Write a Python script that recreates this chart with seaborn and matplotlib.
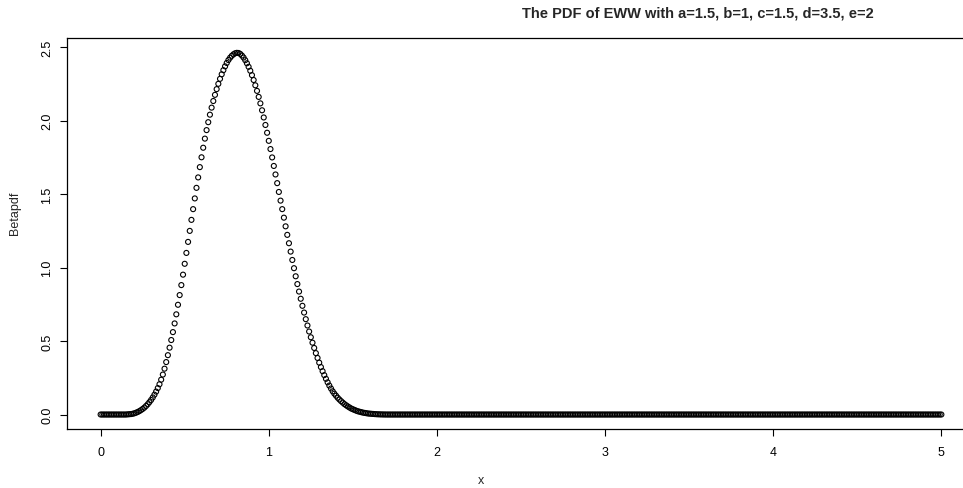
import numpy as np
import pandas as pd
import matplotlib
matplotlib.use('Agg')
import matplotlib.pyplot as plt
import seaborn as sns

# grid step of the evaluated points (read from the spacing of the circles)
x_step = 0.01

# pdf values, x = 0.00 .. 5.00
pdf_head_zeros = [0.0] * 15  # x = 0.00 .. 0.14
pdf_body = [
    0.000, 0.001, 0.002, 0.003, 0.005, 0.008, 0.012, 0.017, 0.023, 0.030,  # 0.15-0.24
    0.038, 0.047, 0.058, 0.070, 0.084, 0.099, 0.116, 0.135, 0.156, 0.180,  # 0.25-0.34
    0.206, 0.237, 0.272, 0.312, 0.357, 0.404, 0.455, 0.507, 0.561, 0.620,  # 0.35-0.44
    0.682, 0.747, 0.813, 0.881, 0.952, 1.026, 1.100, 1.175, 1.250, 1.325,  # 0.45-0.54
    1.398, 1.471, 1.543, 1.614, 1.684, 1.751, 1.816, 1.878, 1.936, 1.990,  # 0.55-0.64
    2.041, 2.089, 2.134, 2.176, 2.215, 2.251, 2.285, 2.316, 2.344, 2.370,  # 0.65-0.74
    2.393, 2.413, 2.429, 2.442, 2.452, 2.459, 2.462, 2.461, 2.455, 2.444,  # 0.75-0.84
    2.430, 2.412, 2.391, 2.367, 2.340, 2.310, 2.277, 2.241, 2.203, 2.162,  # 0.85-0.94
    2.118, 2.071, 2.022, 1.971, 1.918, 1.863, 1.807, 1.750, 1.692, 1.634,  # 0.95-1.04
    1.575, 1.515, 1.456, 1.398, 1.340, 1.281, 1.223, 1.166, 1.109, 1.052,  # 1.05-1.14
    0.996, 0.941, 0.888, 0.837, 0.788, 0.740, 0.694, 0.649, 0.606, 0.565,  # 1.15-1.24
    0.526, 0.489, 0.453, 0.418, 0.385, 0.353, 0.323, 0.295, 0.268, 0.243,  # 1.25-1.34
    0.219, 0.197, 0.177, 0.158, 0.142, 0.128, 0.114, 0.102, 0.091, 0.081,  # 1.35-1.44
    0.071, 0.063, 0.055, 0.048, 0.041, 0.036, 0.031, 0.026, 0.022, 0.019,  # 1.45-1.54
    0.016, 0.013, 0.011, 0.009, 0.007, 0.006, 0.005, 0.004, 0.003, 0.002,  # 1.55-1.64
    0.0015, 0.001, 0.0007, 0.0004, 0.0002,                                 # 1.65-1.69
]
pdf_tail_zeros = [0.0] * 331  # x = 1.70 .. 5.00

x_ticks = [0, 1, 2, 3, 4, 5]
y_ticks = [0.0, 0.5, 1.0, 1.5, 2.0, 2.5]
y_tick_labels = ['0.0', '0.5', '1.0', '1.5', '2.0', '2.5']
title = 'The PDF of EWW with a=1.5, b=1, c=1.5, d=3.5, e=2'

pdf = pdf_head_zeros + pdf_body + pdf_tail_zeros
df = pd.DataFrame({'x': np.arange(len(pdf)) * x_step, 'Betapdf': pdf})

sns.set_style('white')
plt.rcParams['font.family'] = ['Liberation Sans', 'DejaVu Sans']

fig = plt.figure(figsize=(9.63, 4.89), dpi=100)
# plot box runs past the right edge of the picture, as in the reference
ax = fig.add_axes([67 / 963, 59 / 489, 908 / 963, 391 / 489])

sns.scatterplot(data=df, x='x', y='Betapdf', ax=ax, marker='o', s=13,
                facecolors='none', edgecolor='black', linewidth=0.8)

ax.set_xlim(-0.2, 5.2)
ax.set_ylim(-0.0986, 2.563)
ax.set_xticks(x_ticks)
ax.set_yticks(y_ticks)
ax.set_yticklabels(y_tick_labels)

for side in ['left', 'right', 'top', 'bottom']:
    ax.spines[side].set_visible(True)
    ax.spines[side].set_color('black')
    ax.spines[side].set_linewidth(0.9)

ax.tick_params(axis='both', direction='out', length=5, width=0.8,
               labelsize=9, colors='black', pad=7)
ax.tick_params(axis='y', pad=5)
ax.tick_params(axis='both', left=True, bottom=True)
for lab in ax.get_yticklabels():
    lab.set_rotation(90)
    lab.set_va('center')

ax.set_xlabel('x', fontsize=9, va='center')
ax.set_ylabel('Betapdf', fontsize=9, va='center')
ax.xaxis.set_label_coords((481 - 67) / 908, (430 - 481) / 391)
ax.yaxis.set_label_coords((15 - 67) / 908, (430 - 213) / 391)

fig.text(698 / 963, 1 - 13 / 489, title, ha='center', va='center',
         fontsize=10.5, fontweight='bold')

fig.savefig('out.png', dpi=100)
